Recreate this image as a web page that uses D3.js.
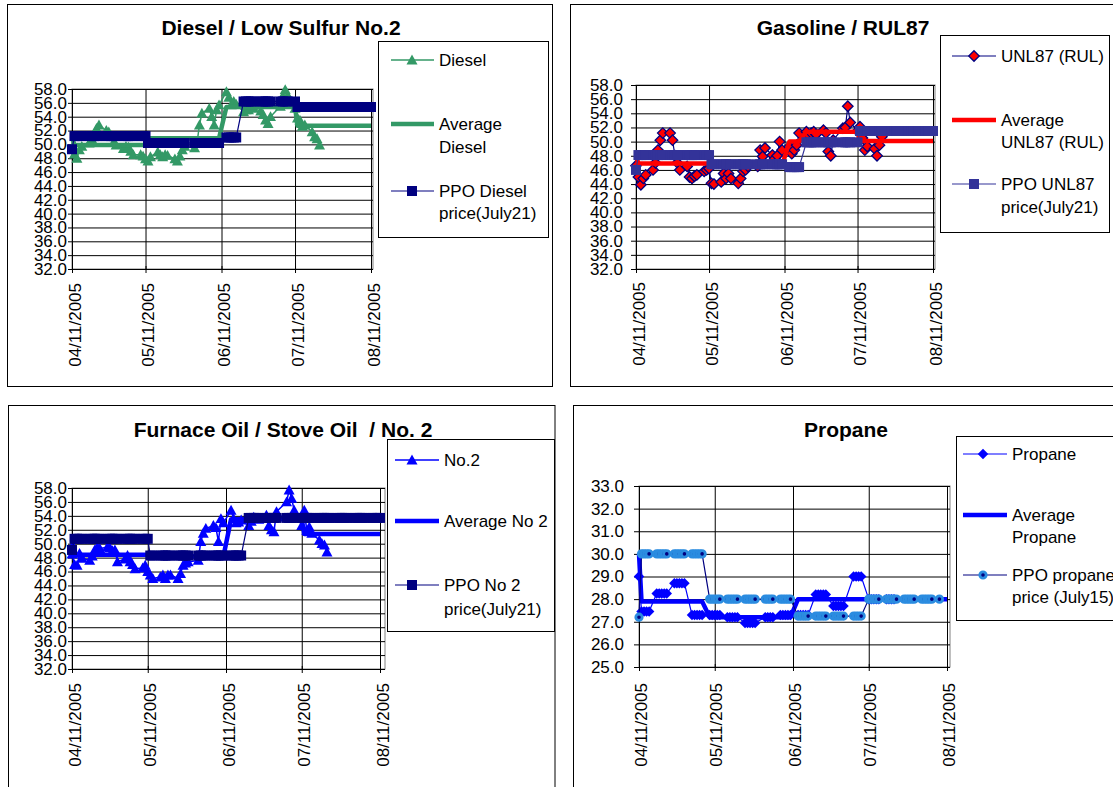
<!DOCTYPE html>
<html>
<head>
<meta charset="utf-8">
<script src="https://cdn.jsdelivr.net/npm/d3@7"></script>
<style>
  body { margin: 0; background: #fff; }
  svg { display: block; font-family: "Liberation Sans", Arial, Helvetica, sans-serif; }
</style>
</head>
<body>
<svg id="chart" width="1113" height="787"></svg>
<script>
// ---- Trading days (Apr 11 – Jul 21, 2005) ----
const tradeDates = [
  "04-11","04-12","04-13","04-14","04-15","04-18","04-19","04-20","04-21","04-22",
  "04-25","04-26","04-27","04-28","04-29",
  "05-02","05-03","05-04","05-05","05-06","05-09","05-10","05-11","05-12","05-13",
  "05-16","05-17","05-18","05-19","05-20","05-23","05-24","05-25","05-26","05-27","05-31",
  "06-01","06-02","06-03","06-06","06-07","06-08","06-09","06-10","06-13","06-14",
  "06-15","06-16","06-17","06-20","06-21","06-22","06-23","06-24","06-27","06-28","06-29","06-30",
  "07-01","07-05","07-06","07-07","07-08","07-11","07-12","07-13","07-14","07-15",
  "07-18","07-19","07-20","07-21"
];
// Pricing-period days run on through Aug 11
const planExtraDates = [
  "07-22","07-25","07-26","07-27","07-28","07-29","08-01","08-02","08-03","08-04",
  "08-05","08-08","08-09","08-10","08-11"
];
const axisTickDates = ["04-11","05-11","06-11","07-11","08-11"];
const fuelTicks = [32,34,36,38,40,42,44,46,48,50,52,54,56,58];
const propaneTicks = [25,26,27,28,29,30,31,32,33];

// ---- Daily rack prices (cents/gal) ----
const dieselPrices = [
  49.5,48.6,48.0,49.2,49.7, 50.2,50.8,51.5,52.3,52.8, 52.0,51.8,51.2,50.3,49.9,
  49.4,49.7,49.6,49.0,48.5, 48.5,48.3,47.9,47.6,48.2, 48.9,48.5,48.2,48.5,48.4,
  47.9,47.6,48.3,49.2,49.7, 49.5, 50.2,52.8,54.5, 55.2,54.0,52.8,55.0,55.7,
  57.6,56.8,55.7,56.2,55.8, 54.7,55.0,55.0,55.3,55.2, 54.8,54.3,53.5,53.0, 54.0,
  55.5,57.0,57.9,57.1, 55.2,53.8,53.5,52.6,52.8, 51.8,51.1,50.8,49.9
];
const gasolinePrices = [
  46.6,45.0,43.9,44.8,45.3, 46.0,47.0,48.8,50.2,51.2, 51.2,50.2,48.0,47.0,46.0,
  46.5,45.0,44.8,45.1,45.3, 45.8,46.0,46.2,44.1,44.0, 44.3,45.5,44.8,45.5,44.8,
  44.1,44.8,45.8,46.0,46.5, 46.5, 48.8,47.9,49.1, 48.1,47.6,48.0,50.0,48.8,
  49.3,48.3,48.8,49.5,51.2, 51.4,50.9,51.2,51.4,51.0, 51.6,51.2,48.6,48.0, 50.2,
  51.9,52.0,55.0,52.7, 51.5,52.1,50.5,48.8,49.3, 49.0,48.0,49.5,50.7
];
const no2Prices = [
  48.5,47.0,46.9,48.6,47.9, 47.6,48.2,49.1,49.5,49.3, 49.5,49.4,49.0,49.1,47.4,
  47.8,48.3,47.4,47.0,46.4, 46.5,46.9,46.0,45.5,45.0, 45.2,45.5,45.0,45.5,45.5,
  45.0,45.7,46.9,47.2,47.4, 47.6, 50.3,51.5,52.2, 52.6,52.3,50.3,53.6,53.0,
  54.8,53.6,53.0,53.1,53.4, 52.6,53.2,53.8,53.6,53.5, 54.1,52.6,52.0,51.7, 54.6,
  56.0,57.7,56.5,54.8, 52.6,54.8,51.9,52.4,51.5, 50.5,50.0,49.8,48.8
];
const propanePrices = [
  29.0,27.45,27.45,27.45,27.45, 28.25,28.25,28.25,28.25,28.25, 28.7,28.7,28.7,28.7,28.7,
  27.3,27.3,27.3,27.3,27.3, 27.3,27.3,27.3,27.3,27.3, 27.2,27.2,27.2,27.2,27.2,
  26.95,26.95,26.95,26.95,26.95, 27.2, 27.2,27.2,27.2, 27.3,27.3,27.3,27.3,27.3,
  27.3,27.3,27.3,27.3,27.3, 28.2,28.2,28.2,28.2,28.2, 27.7,27.7,27.7,27.7, 27.7,
  29.0,29.0,29.0,29.0, 28.0,28.0,28.0,28.0,28.0, 28.0,28.0,28.0,28.0
];

// ---- Period averages and PPO prices, as [price, number of days] runs ----
const dieselAverageRuns   = [[51.1,1],[49.9,22],[50.9,21],[55.4,20],[52.7,23]];
const dieselPpoRuns       = [[49.3,1],[51.2,22],[50.2,21],[51.0,5],[56.2,15],[55.4,23]];
const gasolineAverageRuns = [[48.0,1],[46.9,22],[46.6,21],[50.0,5],[51.4,15],[50.1,23]];
const gasolinePpoRuns     = [[46.0,1],[48.1,22],[46.8,21],[46.4,5],[49.9,15],[51.5,23]];
const no2AverageRuns      = [[50.5,1],[48.4,22],[48.2,21],[53.5,20],[51.4,23]];
const no2PpoRuns          = [[49.1,1],[50.7,22],[48.3,26],[53.7,38]];
const propaneAverageRuns  = [[30.0,1],[27.9,19],[27.2,24],[28.0,43]];
const propanePpoRuns      = [[27.2,1],[30.0,19],[28.0,24],[27.25,19],[28.0,21]];

// ---------------------------------------------------------------
const parseDay = s => new Date(Date.UTC(2005, +s.slice(0, 2) - 1, +s.slice(3, 5)));
const tradeDays = tradeDates.map(parseDay);
const planDays = tradeDates.concat(planExtraDates).map(parseDay);
const tickDays = axisTickDates.map(parseDay);
const fromRuns = runs => runs.flatMap(([v, n]) => Array(n).fill(v));
const zipSeries = (days, values) => values.map((v, i) => ({ date: days[i], value: v }));

const FONT_SIZE = 17;
const svg = d3.select("#chart");

function markerPath(shape, s) {
  const h = s / 2;
  if (shape === "triangle") return `M0,${-h}L${h},${h * 0.8}L${-h},${h * 0.8}Z`;
  if (shape === "square") return `M${-h},${-h}H${h}V${h}H${-h}Z`;
  if (shape === "diamond") return `M0,${-h}L${h},0L0,${h}L${-h},0Z`;
  return "";
}

function addMarkers(g, points, m, xf, yf) {
  if (m.shape === "circle") {
    g.selectAll(null).data(points).join("circle")
      .attr("cx", d => xf(d)).attr("cy", d => yf(d)).attr("r", m.r)
      .attr("fill", m.fill).attr("stroke", m.stroke).attr("stroke-width", m.strokeWidth);
  } else {
    g.selectAll(null).data(points).join("path")
      .attr("d", markerPath(m.shape, m.size))
      .attr("transform", d => `translate(${xf(d)},${yf(d)})`)
      .attr("fill", m.fill).attr("stroke", m.stroke || "none")
      .attr("stroke-width", m.strokeWidth || 0);
  }
}

const panels = [
  {
    frame: [7.5, 4.5, 545, 382],
    title: "Diesel / Low Sulfur No.2", titleX: 281, titleY: 35,
    plot: { left: 72, right: 373, top: 89, bottom: 269, xEnd: 371 },
    yDomain: [32, 58], yTicks: fuelTicks, yTickSize: 4, yPad: 1,
    xLabelTop: 14, xLabelShift: 8,
    series: [
      { values: zipSeries(tradeDays, dieselPrices), color: "#339966", width: 1.5,
        marker: { shape: "triangle", size: 11, fill: "#339966" },
        legend: { lines: ["Diesel"], ys: [60] } },
      { values: zipSeries(planDays, fromRuns(dieselAverageRuns)), color: "#339966", width: 4.5,
        legend: { lines: ["Average", "Diesel"], ys: [124, 147] } },
      { values: zipSeries(planDays, fromRuns(dieselPpoRuns)), color: "#000080", width: 1.2,
        marker: { shape: "square", size: 10, fill: "#000080" },
        legend: { lines: ["PPO Diesel", "price(July21)"], ys: [191, 213] } }
    ],
    legendBox: [378.5, 41.5, 170, 196], sampleX: [391, 434], markerX: 412, textX: 439
  },
  {
    frame: [570.5, 4.5, 560, 382],
    title: "Gasoline / RUL87", titleX: 843, titleY: 35,
    plot: { left: 636, right: 935, top: 85, bottom: 269, xEnd: 933 },
    yDomain: [32, 58], yTicks: fuelTicks, yTickSize: 5, yPad: 8,
    xLabelTop: 13, xLabelShift: 8,
    series: [
      { values: zipSeries(tradeDays, gasolinePrices), color: "#000080", width: 1.2,
        marker: { shape: "diamond", size: 10.5, fill: "#FF0000", stroke: "#000080", strokeWidth: 1.3 },
        legend: { lines: ["UNL87 (RUL)"], ys: [56] } },
      { values: zipSeries(planDays, fromRuns(gasolineAverageRuns)), color: "#FF0000", width: 4.5,
        legend: { lines: ["Average", "UNL87 (RUL)"], ys: [120, 142] } },
      { values: zipSeries(planDays, fromRuns(gasolinePpoRuns)), color: "#333399", width: 1.2,
        marker: { shape: "square", size: 10, fill: "#333399" },
        legend: { lines: ["PPO UNL87", "price(July21)"], ys: [184, 207] } }
    ],
    legendBox: [940.5, 35.5, 169, 197], sampleX: [952, 996], markerX: 974, textX: 1001
  },
  {
    frame: [8.5, 405.5, 546.5, 400],
    title: "Furnace Oil / Stove Oil  / No. 2", titleX: 283, titleY: 437,
    plot: { left: 72, right: 385, top: 488, bottom: 669, xEnd: 380 },
    yDomain: [32, 58], yTicks: fuelTicks, yTickSize: 4, yPad: 1,
    xLabelTop: 14, xLabelShift: 8,
    series: [
      { values: zipSeries(tradeDays, no2Prices), color: "#0000FF", width: 1.5,
        marker: { shape: "triangle", size: 11, fill: "#0000FF" },
        legend: { lines: ["No.2"], ys: [460] } },
      { values: zipSeries(planDays, fromRuns(no2AverageRuns)), color: "#0000FF", width: 4.5,
        legend: { lines: ["Average No 2"], ys: [521] } },
      { values: zipSeries(planDays, fromRuns(no2PpoRuns)), color: "#000080", width: 1.2,
        marker: { shape: "square", size: 10, fill: "#000080" },
        legend: { lines: ["PPO No 2", "price(July21)"], ys: [585, 609] } }
    ],
    legendBox: [387.5, 439.5, 167, 192], sampleX: [395, 439], markerX: 412, textX: 444
  },
  {
    frame: [573.5, 405.5, 560, 400],
    title: "Propane", titleX: 846, titleY: 437,
    plot: { left: 639, right: 950, top: 486, bottom: 667, xEnd: 947 },
    yDomain: [25, 33], yTicks: propaneTicks, yTickSize: 5, yPad: 10,
    xLabelTop: 16, xLabelShift: 7,
    series: [
      { values: zipSeries(tradeDays, propanePrices), color: "#0000FF", width: 1.2,
        marker: { shape: "diamond", size: 10.5, fill: "#0000FF" },
        legend: { lines: ["Propane"], ys: [454] } },
      { values: zipSeries(planDays, fromRuns(propaneAverageRuns)), color: "#0000FF", width: 4.5,
        legend: { lines: ["Average", "Propane"], ys: [515, 537] } },
      { values: zipSeries(planDays, fromRuns(propanePpoRuns)), color: "#000080", width: 1.2,
        marker: { shape: "circle", r: 3.2, fill: "#000080", stroke: "#2b8ce0", strokeWidth: 2.8 },
        legend: { lines: ["PPO propane", "price (July15)"], ys: [575, 597] } }
    ],
    legendBox: [956.5, 436.5, 200, 184], sampleX: [963, 1007], markerX: 983, textX: 1012
  }
];

panels.forEach(p => {
  const g = svg.append("g");
  const P = p.plot;

  // panel frame
  g.append("rect")
    .attr("x", p.frame[0]).attr("y", p.frame[1])
    .attr("width", p.frame[2]).attr("height", p.frame[3])
    .attr("fill", "#fff").attr("stroke", "#000").attr("stroke-width", 1);

  // title
  g.append("text")
    .attr("x", p.titleX).attr("y", p.titleY)
    .attr("text-anchor", "middle")
    .attr("font-size", 21).attr("font-weight", "bold")
    .attr("xml:space", "preserve")
    .text(p.title);

  const x = d3.scaleUtc().domain([tickDays[0], tickDays[tickDays.length - 1]]).range([P.left, P.xEnd]);
  const y = d3.scaleLinear().domain(p.yDomain).range([P.bottom, P.top]);

  // plot area border
  g.append("rect")
    .attr("x", P.left).attr("y", P.top)
    .attr("width", P.right - P.left).attr("height", P.bottom - P.top)
    .attr("fill", "#fff").attr("stroke", "#808080").attr("stroke-width", 1);

  // horizontal gridlines
  g.append("g").attr("transform", `translate(${P.left},0)`)
    .call(d3.axisLeft(y).tickValues(p.yTicks).tickSize(-(P.right - P.left)).tickFormat(""))
    .call(a => a.select(".domain").remove())
    .selectAll("line").attr("stroke", "#000").attr("stroke-width", 1);

  // vertical gridlines
  g.append("g").attr("transform", `translate(0,${P.bottom})`)
    .call(d3.axisBottom(x).tickValues(tickDays.slice(1)).tickSize(-(P.bottom - P.top)).tickFormat(""))
    .call(a => a.select(".domain").remove())
    .selectAll("line").attr("stroke", "#000").attr("stroke-width", 1);

  // y axis
  const yAxis = g.append("g").attr("transform", `translate(${P.left},0)`)
    .call(d3.axisLeft(y).tickValues(p.yTicks).tickFormat(d3.format(".1f"))
      .tickSize(p.yTickSize).tickSizeOuter(0).tickPadding(p.yPad));
  yAxis.select(".domain").attr("stroke", "#000");
  yAxis.selectAll("line").attr("stroke", "#000");
  yAxis.selectAll("text").attr("font-size", FONT_SIZE).attr("fill", "#000")
    .attr("font-family", null);

  // x axis with rotated date labels
  const xAxis = g.append("g").attr("transform", `translate(0,${P.bottom})`)
    .call(d3.axisBottom(x).tickValues(tickDays).tickFormat(d3.utcFormat("%m/%d/%Y"))
      .tickSize(4).tickSizeOuter(0));
  xAxis.select(".domain").attr("stroke", "#000");
  xAxis.selectAll("line").attr("stroke", "#000").attr("y1", -3);
  xAxis.selectAll("text")
    .attr("font-size", FONT_SIZE).attr("fill", "#000").attr("font-family", null)
    .attr("text-anchor", "end")
    .attr("transform", "rotate(-90)")
    .attr("x", -p.xLabelTop).attr("y", p.xLabelShift).attr("dy", null);

  // series
  const line = d3.line().x(d => x(d.date)).y(d => y(d.value));
  p.series.forEach(s => {
    const sg = g.append("g");
    sg.append("path").datum(s.values)
      .attr("d", line).attr("fill", "none")
      .attr("stroke", s.color).attr("stroke-width", s.width)
      .attr("stroke-linejoin", "round");
    if (s.marker) addMarkers(sg, s.values, s.marker, d => x(d.date), d => y(d.value));
  });

  // legend
  const lg = g.append("g");
  const b = p.legendBox;
  lg.append("rect").attr("x", b[0]).attr("y", b[1]).attr("width", b[2]).attr("height", b[3])
    .attr("fill", "#fff").attr("stroke", "#000").attr("stroke-width", 1);
  p.series.forEach(s => {
    const ly = s.legend.ys[0];
    lg.append("line")
      .attr("x1", p.sampleX[0]).attr("x2", p.sampleX[1]).attr("y1", ly).attr("y2", ly)
      .attr("stroke", s.color).attr("stroke-width", s.width);
    if (s.marker) addMarkers(lg, [{ date: null, value: null }], s.marker, () => p.markerX, () => ly);
    s.legend.lines.forEach((t, i) => {
      lg.append("text")
        .attr("x", p.textX).attr("y", s.legend.ys[i]).attr("dy", "0.35em")
        .attr("font-size", FONT_SIZE).attr("fill", "#000")
        .text(t);
    });
  });
});
</script>
</body>
</html>
